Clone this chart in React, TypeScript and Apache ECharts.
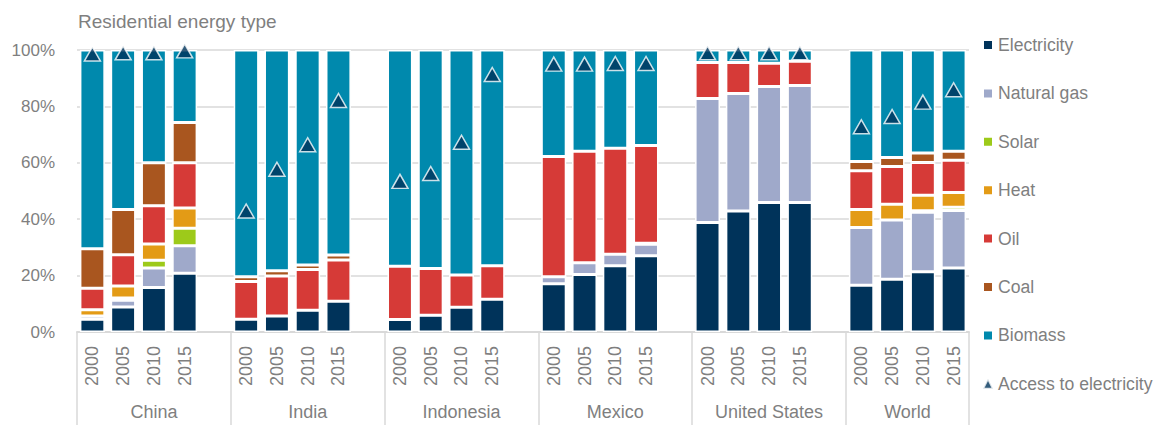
import React, { useEffect, useRef } from "react";
import * as echarts from "echarts";

const countries = ["China", "India", "Indonesia", "Mexico", "United States", "World"];
const years = ["2000", "2005", "2010", "2015"];

const electricity = [4.5, 8.9, 15.8, 20.8, 4.5, 5.7, 7.7, 10.9, 4.4, 5.9, 8.8, 11.6, 17.1, 20.4, 23.5, 27.0, 38.8, 42.9, 45.9, 45.9, 16.6, 18.7, 21.4, 22.7];
const naturalGas = [1.2, 2.4, 6.9, 9.8, 0, 0, 0, 0, 0, 0, 0, 0, 2.5, 4.2, 4.1, 4.1, 44.0, 41.7, 41.2, 41.5, 20.5, 21.0, 21.1, 20.4];
const solar = [0, 0.8, 2.7, 6.2, 0, 0, 0, 0, 0, 0, 0, 0, 0, 0, 0, 0.4, 0, 0, 0, 0, 0, 0, 0.5, 1.1];
const heat = [2.2, 4.2, 5.8, 7.2, 0, 0, 0, 0, 0, 0, 0, 0, 0, 0, 0, 0, 0, 0, 0, 0, 6.3, 5.6, 5.5, 5.3];
const oil = [7.6, 11.1, 13.6, 16.0, 13.4, 14.2, 14.5, 14.6, 18.9, 16.6, 11.4, 11.9, 42.6, 39.5, 37.6, 34.6, 12.8, 11.0, 8.2, 8.6, 13.8, 13.4, 11.6, 11.4];
const coal = [14.0, 16.0, 15.2, 14.3, 1.7, 1.8, 1.6, 1.8, 0, 0, 0, 0, 0, 0, 0, 0, 0, 0, 0, 0, 3.3, 3.2, 3.4, 3.2];
const biomass = [70.5, 56.6, 40.0, 25.7, 80.4, 78.3, 76.2, 72.7, 76.7, 77.5, 79.8, 76.5, 37.8, 35.9, 34.8, 33.9, 4.4, 4.4, 4.7, 4.0, 39.5, 38.1, 36.5, 35.9];
const accessToElectricity = [98.6, 99, 99, 99.7, 42.9, 57.7, 66.4, 82.1, 53.4, 56.2, 67.3, 91.3, 95, 95, 95.2, 95.2, 99, 99, 99, 99, 72.8, 76.4, 81.5, 85.9];

const yTicks = [0, 20, 40, 60, 80, 100];

const seriesDefs = [
  { name: "Electricity", data: electricity, color: "#00335a" },
  { name: "Natural gas", data: naturalGas, color: "#9fa9ca" },
  { name: "Solar", data: solar, color: "#9dca1a" },
  { name: "Heat", data: heat, color: "#e39b16" },
  { name: "Oil", data: oil, color: "#d63a37" },
  { name: "Coal", data: coal, color: "#a9561f" },
  { name: "Biomass", data: biomass, color: "#0089ad" },
];

const FONT = "'Liberation Sans', Arial, sans-serif";
const GRAY = "#7f7f7f";
const LINE = "#d9d9d9";

// Build slot arrays: 4 bars per country and one blank slot between countries
function expand(values: number[]): (number | string)[] {
  const out: (number | string)[] = [];
  countries.forEach((_, ci) => {
    years.forEach((__, yi) => out.push(values[ci * years.length + yi]));
    if (ci < countries.length - 1) out.push("-");
  });
  return out;
}

const categories: string[] = [];
countries.forEach((_, ci) => {
  years.forEach((y) => categories.push(y));
  if (ci < countries.length - 1) categories.push("");
});
const slotCount = categories.length;
const groupSize = years.length + 1;
const separators = countries.map((_, ci) => ci * groupSize).concat([slotCount]);
const labelCenters = countries.map((_, ci) => {
  const start = ci * groupSize;
  const end = ci < countries.length - 1 ? start + groupSize : slotCount;
  return (start + end) / 2;
});

export default function App() {
  const ref = useRef<HTMLDivElement>(null);
  useEffect(() => {
    if (!ref.current) return;
    const chart = echarts.init(ref.current, undefined, { renderer: "svg" });
    const option: any = {
      animation: false,
      backgroundColor: "#ffffff",
      title: {
        text: "Residential energy type",
        left: 73,
        top: 7,
        textStyle: { fontFamily: FONT, fontSize: 19, fontWeight: "normal", color: GRAY },
      },
      legend: {
        orient: "vertical",
        left: 977,
        top: 31,
        itemWidth: 10,
        itemHeight: 10,
        itemGap: 30.4,
        textStyle: { fontFamily: FONT, fontSize: 17.6, color: GRAY, lineHeight: 18 },
        data: seriesDefs
          .map((s) => ({ name: s.name, icon: "rect" }))
          .concat([{ name: "Access to electricity", icon: "triangle" }]),
      },
      grid: { left: 77, right: 191, top: 50, bottom: 93, containLabel: false },
      xAxis: [
        {
          type: "category",
          data: categories,
          position: "bottom",
          axisLine: { show: true, lineStyle: { color: LINE, width: 2 } },
          axisTick: { show: false },
          axisLabel: {
            interval: 0,
            rotate: 90,
            margin: 14,
            fontFamily: FONT,
            fontSize: 18,
            color: GRAY,
          },
        },
        {
          type: "value",
          min: 0,
          max: slotCount,
          position: "bottom",
          axisLine: { show: false },
          splitLine: { show: false },
          axisTick: {
            show: true,
            customValues: separators,
            length: 95,
            lineStyle: { color: LINE, width: 1.5 },
          },
          axisLabel: {
            customValues: labelCenters,
            margin: 71,
            fontFamily: FONT,
            fontSize: 18,
            color: GRAY,
            formatter: (v: number) => {
              const i = labelCenters.findIndex((c) => Math.abs(c - v) < 1e-6);
              return i >= 0 ? countries[i] : "";
            },
          },
        },
      ],
      yAxis: {
        type: "value",
        min: 0,
        max: 100,
        interval: 20,
        axisLine: { show: false },
        axisTick: { show: false },
        splitLine: { show: true, lineStyle: { color: LINE, width: 1.5 } },
        axisLabel: {
          margin: 22,
          fontFamily: FONT,
          fontSize: 17,
          color: GRAY,
          customValues: yTicks,
          formatter: (v: number) => `${v}%`,
        },
      },
      series: [
        ...seriesDefs.map((s) => ({
          name: s.name,
          type: "bar",
          stack: "energy",
          xAxisIndex: 0,
          barCategoryGap: "19%",
          data: expand(s.data),
          itemStyle: { color: s.color, borderColor: "#ffffff", borderWidth: 1.5 },
          emphasis: { disabled: true },
        })),
        {
          name: "Access to electricity",
          type: "scatter",
          xAxisIndex: 0,
          symbol: "triangle",
          symbolSize: [16, 14],
          z: 5,
          data: expand(accessToElectricity),
          itemStyle: { color: "#00335a", borderColor: "#ffffff", borderWidth: 1.5 },
          emphasis: { disabled: true },
        },
      ],
    };
    chart.setOption(option);
    return () => chart.dispose();
  }, []);
  return (
    <div
      ref={ref}
      style={{ position: "fixed", left: 0, top: 0, width: 1160, height: 425 }}
    />
  );
}
